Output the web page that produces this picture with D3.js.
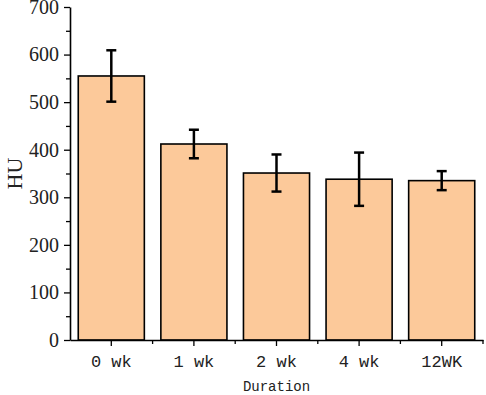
<!DOCTYPE html>
<html>
<head>
<meta charset="utf-8">
<script src="https://cdn.jsdelivr.net/npm/d3@7"></script>
<style>
  body { margin: 0; background: #fff; }
  svg { display: block; }
</style>
</head>
<body>
<div id="chart"></div>
<script>
// data
const categories = ['0 wk', '1 wk', '2 wk', '4 wk', '12WK']
const means = [555, 412, 351, 338, 335]
const errors = [54, 30, 39, 56, 20]
const yTicks = [0, 100, 200, 300, 400, 500, 600, 700]

const width = 486
const height = 395
const margin = { top: 7, right: 3, bottom: 55, left: 70 }
const innerWidth = width - margin.left - margin.right
const innerHeight = height - margin.top - margin.bottom

const data = categories.map((c, i) => ({ key: c, value: means[i], err: errors[i] }))

const svg = d3.select('#chart').append('svg')
    .attr('width', width)
    .attr('height', height)

const g = svg.append('g')
    .attr('transform', `translate(${margin.left}, ${margin.top})`)

const xScale = d3.scaleBand()
    .domain(categories)
    .range([0, innerWidth])
    .paddingInner(0.2)
    .paddingOuter(0.1)

// band zonder padding voor de ticks op de x-as
const xAxisBand = d3.scaleBand().domain(categories).range([0, innerWidth])

const yScale = d3.scaleLinear()
    .domain([0, 700])
    .range([innerHeight, 0])

// bars
g.selectAll('rect.bar')
    .data(data)
    .enter()
    .append('rect')
    .attr('class', 'bar')
    .attr('x', d => xScale(d.key))
    .attr('y', d => yScale(d.value))
    .attr('width', xScale.bandwidth())
    .attr('height', d => innerHeight - yScale(d.value))
    .attr('fill', '#fcc99a')
    .attr('stroke', '#000')
    .attr('stroke-width', 1.6)

// error bars
const eb = g.selectAll('g.err')
    .data(data)
    .enter()
    .append('g')
    .attr('class', 'err')
    .attr('stroke', '#000')
    .attr('stroke-width', 2.5)

const cx = d => xScale(d.key) + xScale.bandwidth() / 2
eb.append('line')
    .attr('x1', cx).attr('x2', cx)
    .attr('y1', d => yScale(d.value + d.err))
    .attr('y2', d => yScale(d.value - d.err))
eb.append('line')
    .attr('x1', d => cx(d) - 5).attr('x2', d => cx(d) + 5)
    .attr('y1', d => yScale(d.value + d.err))
    .attr('y2', d => yScale(d.value + d.err))
eb.append('line')
    .attr('x1', d => cx(d) - 5).attr('x2', d => cx(d) + 5)
    .attr('y1', d => yScale(d.value - d.err))
    .attr('y2', d => yScale(d.value - d.err))

// kleine ticks op de y-as
const yMinor = g.append('g')
    .call(d3.axisLeft(yScale).tickValues(d3.range(50, 700, 100)).tickSize(4).tickFormat(''))
yMinor.select('.domain').remove()
yMinor.selectAll('line').attr('stroke-width', 1.3)

// y-as
const yAxis = g.append('g')
    .call(d3.axisLeft(yScale).tickValues(yTicks).tickSize(6).tickSizeOuter(0).tickPadding(5))
yAxis.select('.domain').attr('stroke-width', 1.6)
yAxis.selectAll('line').attr('stroke-width', 1.3)
yAxis.selectAll('text')
    .style('font-family', '"Liberation Serif", serif')
    .style('font-size', '20px')
    .attr('fill', '#222')

// kleine ticks op de grenzen tussen de categorieen
const xMinor = g.append('g')
    .attr('transform', `translate(0, ${innerHeight})`)
xMinor.selectAll('line')
    .data(categories.slice(1).map(c => xAxisBand(c)).concat([innerWidth]))
    .enter()
    .append('line')
    .attr('x1', d => d).attr('x2', d => d)
    .attr('y1', 0).attr('y2', 4)
    .attr('stroke', '#000')
    .attr('stroke-width', 1.3)

// x-as
const xAxis = g.append('g')
    .attr('transform', `translate(0, ${innerHeight})`)
    .call(d3.axisBottom(xAxisBand).tickSize(6).tickSizeOuter(0).tickPadding(9))
xAxis.select('.domain').attr('stroke-width', 1.6)
xAxis.selectAll('line').attr('stroke-width', 1.3)
xAxis.selectAll('text')
    .style('font-family', '"Liberation Mono", monospace')
    .style('font-size', '17px')
    .attr('fill', '#222')

// as titels
svg.append('text')
    .attr('transform', `translate(22, ${margin.top + innerHeight / 2}) rotate(-90)`)
    .attr('text-anchor', 'middle')
    .style('font-family', '"Liberation Serif", serif')
    .style('font-size', '22px')
    .attr('fill', '#222')
    .text('HU')

svg.append('text')
    .attr('x', margin.left + innerWidth / 2)
    .attr('y', 391)
    .attr('text-anchor', 'middle')
    .style('font-family', '"Liberation Mono", monospace')
    .style('font-size', '14px')
    .attr('fill', '#222')
    .text('Duration')
</script>
</body>
</html>
